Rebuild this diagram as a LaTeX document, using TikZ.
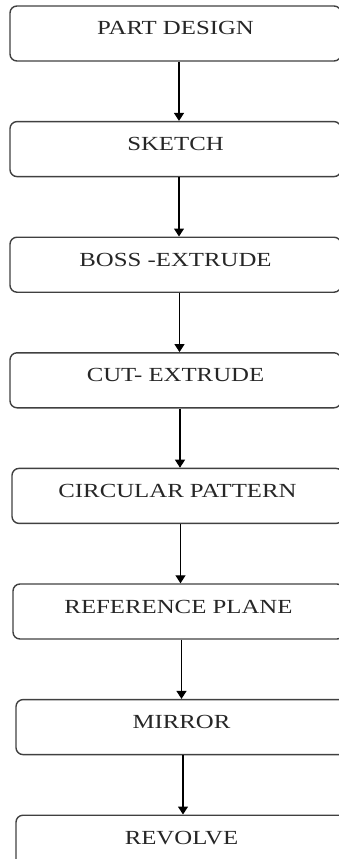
\documentclass[tikz,border=0pt]{standalone}
\usepackage{fontspec}
\setmainfont{Liberation Serif}[FakeStretch=1.24]
\usepackage{tikz}
\usetikzlibrary{positioning}
\usetikzlibrary{arrows.meta}
\usepackage{xcolor}

\begin{document}
\begin{tikzpicture}[
    stepbox/.style={draw=black!75, line width=1.4pt, rounded corners=7pt,
      minimum width=331pt, inner sep=0pt, text height=29pt, text depth=26pt,
      font=\fontsize{20}{24}\selectfont, text=black!85},
    flow/.style={-{Triangle[width=10pt,length=8pt]}, line width=1.1pt},
    node distance=59.2pt,
  ]
  \clip (0,0) rectangle (339pt,-859pt);

  \node[stepbox] (part) at (175.5pt,-33.5pt) {PART DESIGN};
  \node[stepbox, below=of part] (sketch) {SKETCH};
  \node[stepbox, below=of sketch] (boss) {BOSS -EXTRUDE};
  \node[stepbox, below=of boss] (cut) {CUT- EXTRUDE};
  \node[stepbox, below=of cut, xshift=2pt] (circ) {CIRCULAR PATTERN};
  \node[stepbox, below=of circ, xshift=1pt] (plane) {REFERENCE PLANE};
  \node[stepbox, below=of plane, xshift=3pt] (mirror) {MIRROR};
  \node[stepbox, below=of mirror] (revolve) {REVOLVE};

  \draw[flow] ([xshift=3.5pt]part.south) -- ([xshift=3.5pt]part.south |- sketch.north);
  \draw[flow] ([xshift=3.5pt]sketch.south) -- ([xshift=3.5pt]sketch.south |- boss.north);
  \draw[flow] ([xshift=4pt]boss.south) -- ([xshift=4pt]boss.south |- cut.north);
  \draw[flow] ([xshift=4.5pt]cut.south) -- ([xshift=4.5pt]cut.south |- circ.north);
  \draw[flow] ([xshift=3pt]circ.south) -- ([xshift=3pt]circ.south |- plane.north);
  \draw[flow] ([xshift=3pt]plane.south) -- ([xshift=3pt]plane.south |- mirror.north);
  \draw[flow] ([xshift=1.5pt]mirror.south) -- ([xshift=1.5pt]mirror.south |- revolve.north);

\end{tikzpicture}
\end{document}
